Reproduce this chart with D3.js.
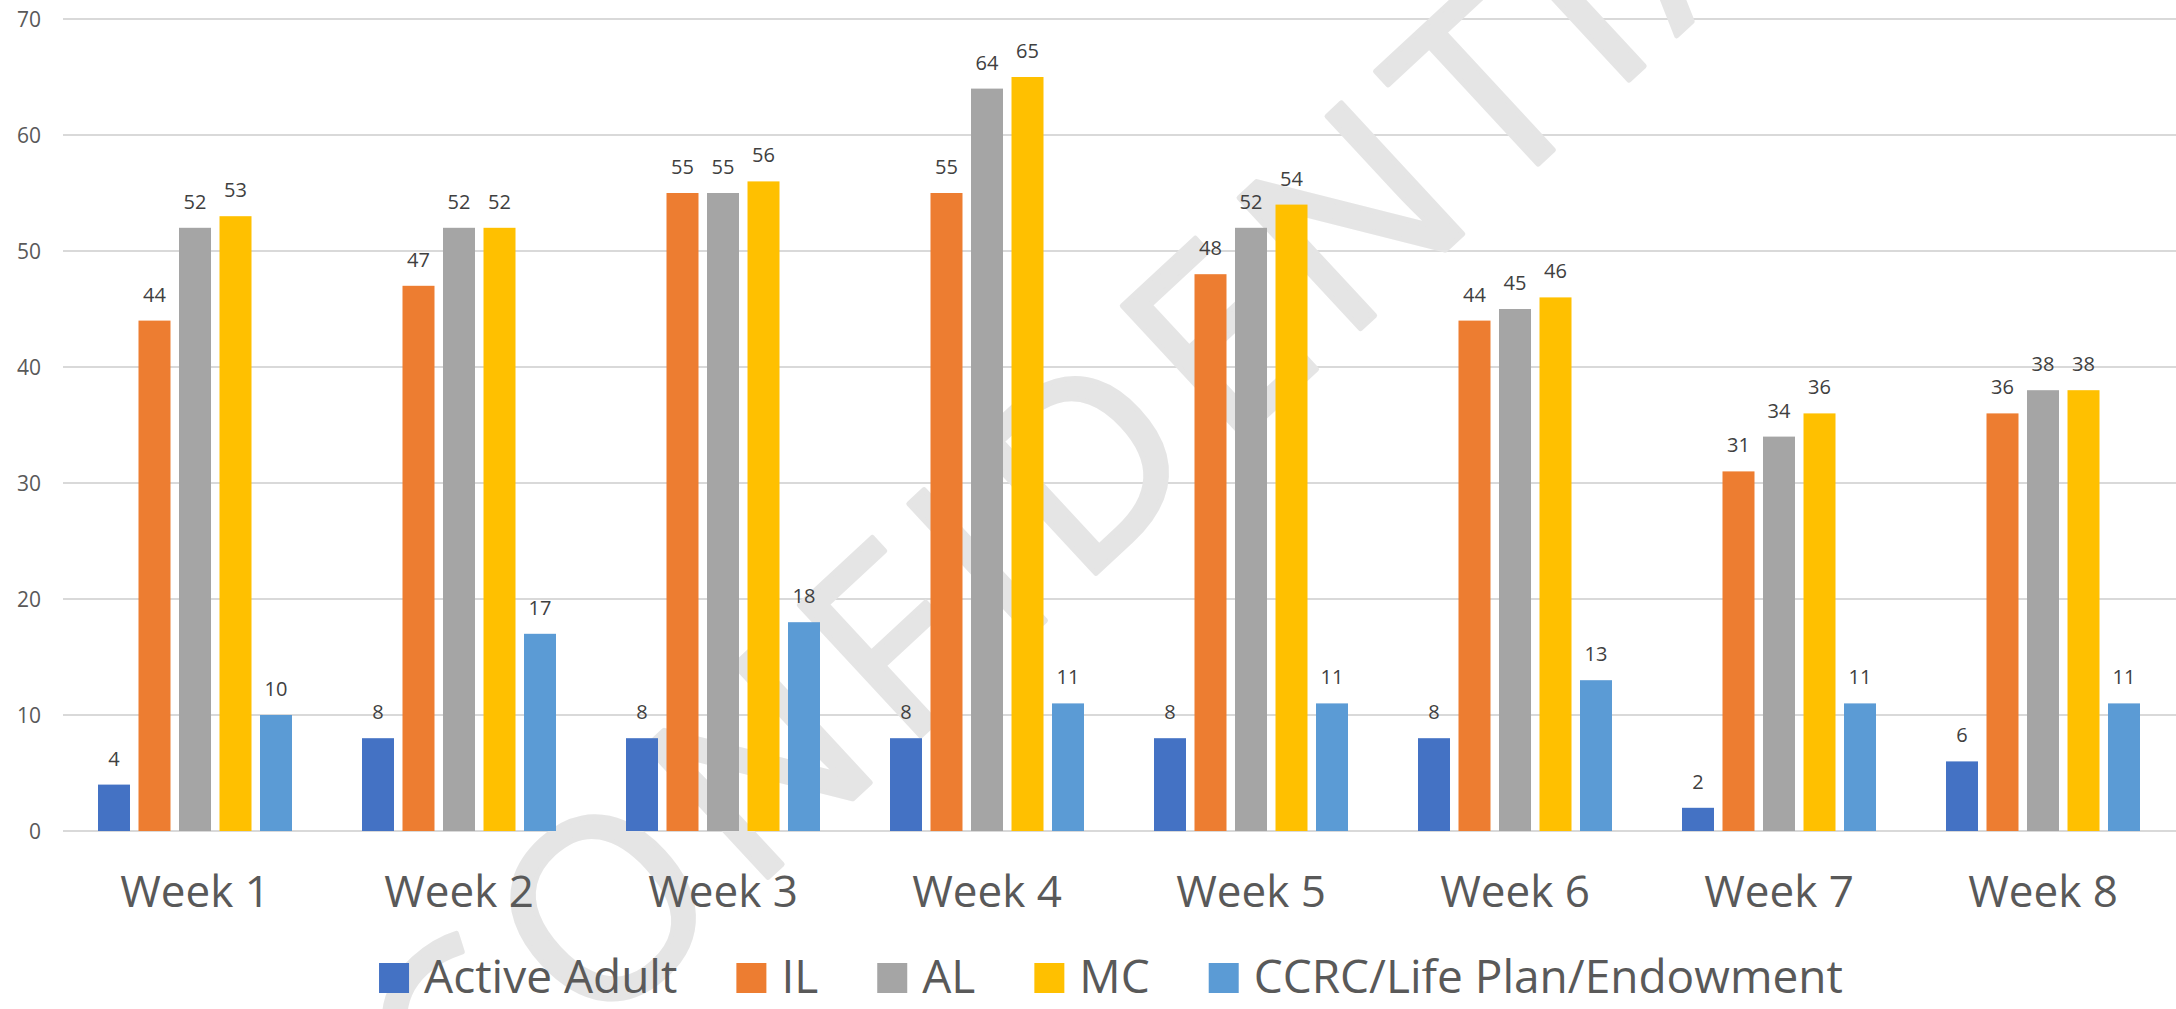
<!DOCTYPE html>
<html>
<head>
<meta charset="utf-8">
<script src="https://cdn.jsdelivr.net/npm/d3@7"></script>
<style>
  html, body { margin: 0; padding: 0; background: #fff; }
  svg { display: block; font-family: "Open Sans", "Noto Sans", sans-serif; }
  .grid line { stroke: #d9d9d9; stroke-width: 2; }
  .tick-label { fill: #595959; font-size: 21px; }
  .week-label { fill: #595959; font-size: 44px; }
  .value { fill: #404040; font-size: 20px; }
  .legend text { fill: #595959; font-size: 46px; }
  .watermark { fill: #e5e5e5; stroke: #e5e5e5; stroke-width: 5px; stroke-linejoin: round; font-size: 250px; letter-spacing: 20px; }
</style>
</head>
<body>
<div class="chart-wrapper"></div>
<script>
const weeks = ['Week 1', 'Week 2', 'Week 3', 'Week 4', 'Week 5', 'Week 6', 'Week 7', 'Week 8']
const seriesNames = ['Active Adult', 'IL', 'AL', 'MC', 'CCRC/Life Plan/Endowment']
const seriesColors = ['#4472C4', '#ED7D31', '#A5A5A5', '#FFC000', '#5B9BD5']

const activeAdult = [4, 8, 8, 8, 8, 8, 2, 6]
const il = [44, 47, 55, 55, 48, 44, 31, 36]
const al = [52, 52, 55, 64, 52, 45, 34, 38]
const mc = [53, 52, 56, 65, 54, 46, 36, 38]
const ccrc = [10, 17, 18, 11, 11, 13, 11, 11]

const yTicks = [0, 10, 20, 30, 40, 50, 60, 70]

const allSeries = [activeAdult, il, al, mc, ccrc]

let width = 2176
let height = 1009

let plot = { left: 63, right: 2175, top: 19, bottom: 831 }

let svg = d3.select('.chart-wrapper').append('svg')
.attr('width', width)
.attr('height', height)

let x0 = d3.scaleBand()
.domain(weeks)
.range([plot.left, plot.right])

let x1 = d3.scaleBand()
.domain(seriesNames)
.range([35, x0.bandwidth() - 35])
.paddingInner(0.21)

let y = d3.scaleLinear()
.domain([0, 70])
.range([plot.bottom, plot.top])

// gridlines
svg.append('g')
.attr('class', 'grid')
.selectAll('line')
.data(yTicks)
.enter()
.append('line')
.attr('x1', plot.left)
.attr('x2', width)
.attr('y1', d => y(d))
.attr('y2', d => y(d))

svg.append('g').selectAll('text')
.data(yTicks)
.enter()
.append('text')
.attr('class', 'tick-label')
.attr('x', 41)
.attr('y', d => y(d))
.attr('dy', '0.36em')
.attr('text-anchor', 'end')
.text(d => d)

// watermark sits behind the bars; pinned so the "D" lands where it is in the picture
let mark = svg.append('text')
.attr('class', 'watermark')
.text('CONFIDENTIAL')

let dBox = mark.node().getExtentOfChar(5)
let cx = dBox.x + (dBox.width - 20) / 2
let cy = -250 * 0.714 / 2
mark.attr('transform', `translate(1084,463) rotate(-42.8) translate(${-cx},${-cy})`)

let groups = svg.append('g').selectAll('g')
.data(weeks)
.enter()
.append('g')
.attr('transform', d => `translate(${x0(d)},0)`)

groups.selectAll('rect')
.data((w, i) => seriesNames.map((s, j) => ({ series: s, color: seriesColors[j], value: allSeries[j][i] })))
.enter()
.append('rect')
.attr('x', d => x1(d.series))
.attr('width', x1.bandwidth())
.attr('y', d => y(d.value))
.attr('height', d => y(0) - y(d.value))
.attr('fill', d => d.color)

groups.selectAll('text.value')
.data((w, i) => seriesNames.map((s, j) => ({ series: s, value: allSeries[j][i] })))
.enter()
.append('text')
.attr('class', 'value')
.attr('x', d => x1(d.series) + x1.bandwidth() / 2)
.attr('y', d => y(d.value) - 19)
.attr('text-anchor', 'middle')
.text(d => d.value)

svg.append('g').selectAll('text')
.data(weeks)
.enter()
.append('text')
.attr('class', 'week-label')
.attr('x', d => x0(d) + x0.bandwidth() / 2)
.attr('y', 907)
.attr('text-anchor', 'middle')
.text(d => d)

// legend, laid out from measured text widths
let legend = svg.append('g').attr('class', 'legend')

let items = legend.selectAll('g')
.data(seriesNames)
.enter()
.append('g')

items.append('rect')
.attr('width', 30)
.attr('height', 30)
.attr('y', 963)
.attr('fill', (d, i) => seriesColors[i])

items.append('text')
.attr('x', 45)
.attr('y', 993)
.text(d => d)

let offsets = []
let cursor = 0
items.each(function () {
  let w = this.querySelector('text').getComputedTextLength()
  offsets.push(cursor)
  cursor += 45 + w + 59
})
let total = cursor - 59
let start = 1111 - total / 2
items.attr('transform', (d, i) => `translate(${start + offsets[i]},0)`)
</script>
</body>
</html>
